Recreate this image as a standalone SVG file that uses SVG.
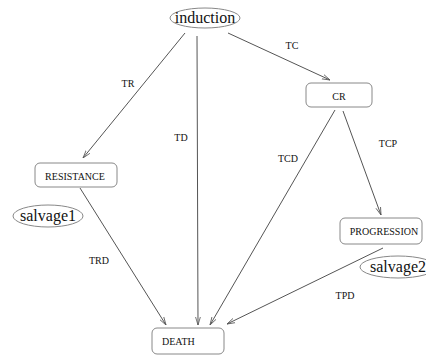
<svg xmlns="http://www.w3.org/2000/svg" width="426" height="356" viewBox="0 0 426 356">
<defs>
<style>
.lbl{font-family:"Liberation Serif",serif;font-size:10px;fill:#111}
.big{font-family:"Liberation Serif",serif;font-size:16px;fill:#111}
.box{fill:#fff;stroke:#888;stroke-width:1}
.ell{fill:#fff;stroke:#888;stroke-width:1}
.edge{fill:none;stroke:#555;stroke-width:1;marker-end:url(#arr)}
</style>
<marker id="arr" viewBox="0 0 10 10" refX="10" refY="5" markerWidth="8" markerHeight="8" markerUnits="userSpaceOnUse" orient="auto">
<path d="M0,2 L10,5 L0,8" fill="none" stroke="#555" stroke-width="1"/>
</marker>
</defs>
<rect width="426" height="356" fill="#fff"/>
<g id="connectors">
<line class="edge" x1="185" y1="33" x2="83" y2="158"/>
<line class="edge" x1="197" y1="36" x2="198" y2="325"/>
<line class="edge" x1="228" y1="33" x2="330" y2="80"/>
<line class="edge" x1="335" y1="110" x2="210" y2="325"/>
<line class="edge" x1="343" y1="111" x2="381" y2="215"/>
<line class="edge" x1="80" y1="188" x2="166" y2="325"/>
<line class="edge" x1="383" y1="248" x2="227" y2="324"/>
<text class="lbl" font-family="Liberation Serif" x="128" y="87" text-anchor="middle">TR</text>
<text class="lbl" font-family="Liberation Serif" x="181" y="141" text-anchor="middle">TD</text>
<text class="lbl" font-family="Liberation Serif" x="292" y="49" text-anchor="middle">TC</text>
<text class="lbl" font-family="Liberation Serif" x="288" y="162" text-anchor="middle">TCD</text>
<text class="lbl" font-family="Liberation Serif" x="388" y="147" text-anchor="middle">TCP</text>
<text class="lbl" font-family="Liberation Serif" x="99" y="264" text-anchor="middle">TRD</text>
<text class="lbl" font-family="Liberation Serif" x="345" y="299" text-anchor="middle">TPD</text>
</g>
<g id="induction">
<ellipse class="ell" cx="205" cy="18" rx="35" ry="10"/>
<text class="big" font-family="Liberation Serif" x="205" y="23" text-anchor="middle">induction</text>
</g>
<g id="cr">
<rect class="box" x="306" y="83" width="66" height="24" rx="5"/>
<text class="lbl" font-family="Liberation Serif" x="339" y="99.5" text-anchor="middle">CR</text>
</g>
<g id="resistance">
<rect class="box" x="35" y="163" width="82" height="24" rx="5"/>
<text class="lbl" font-family="Liberation Serif" x="75" y="179.5" text-anchor="middle">RESISTANCE</text>
</g>
<g id="salvage1">
<ellipse class="ell" cx="48" cy="216" rx="35" ry="11"/>
<text class="big" font-family="Liberation Serif" x="48" y="221" text-anchor="middle">salvage1</text>
</g>
<g id="progression">
<rect class="box" x="340" y="218" width="82" height="26" rx="5"/>
<text class="lbl" font-family="Liberation Serif" x="384" y="234.5" text-anchor="middle">PROGRESSION</text>
</g>
<g id="salvage2">
<ellipse class="ell" cx="398" cy="267" rx="38" ry="11"/>
<text class="big" font-family="Liberation Serif" x="398" y="272" text-anchor="middle">salvage2</text>
</g>
<g id="death">
<rect class="box" x="152" y="328" width="72" height="26" rx="5"/>
<text class="lbl" font-family="Liberation Serif" x="162" y="344.5">DEATH</text>
</g>
</svg>
